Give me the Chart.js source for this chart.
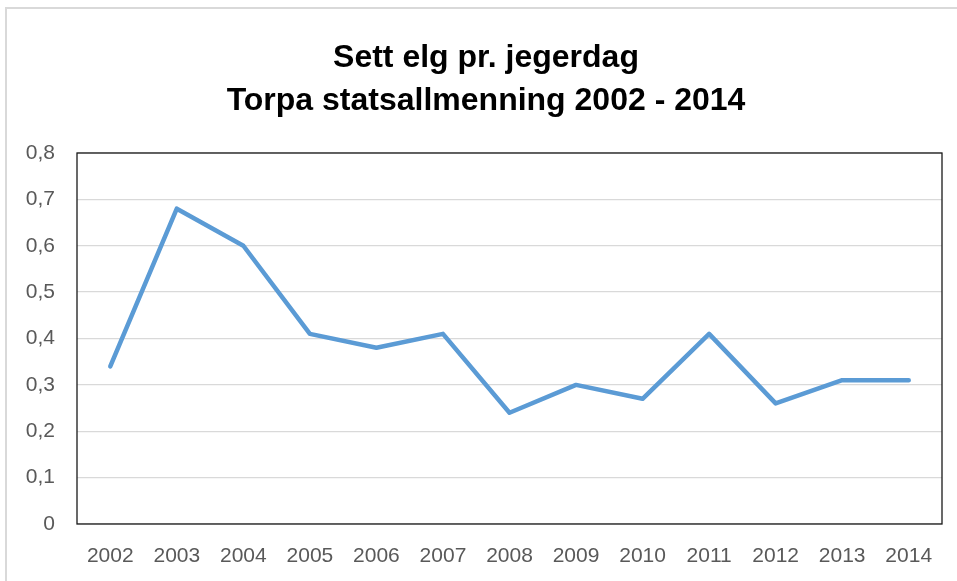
<!DOCTYPE html>
<html>
<head>
<meta charset="utf-8">
<script src="https://cdn.jsdelivr.net/npm/chart.js@4/dist/chart.umd.min.js"></script>
<style>
  html, body { margin: 0; padding: 0; background: #fff; }
  #wrap { width: 957px; height: 581px; position: relative; }
</style>
</head>
<body>
<div id="wrap"><canvas id="chart" width="957" height="581"></canvas></div>
<script>
const years = ['2002', '2003', '2004', '2005', '2006', '2007', '2008', '2009', '2010', '2011', '2012', '2013', '2014'];
const settElg = [0.34, 0.68, 0.60, 0.41, 0.38, 0.41, 0.24, 0.30, 0.27, 0.41, 0.26, 0.31, 0.31];
const titleLines = ['Sett elg pr. jegerdag', 'Torpa statsallmenning 2002 - 2014'];

// ramme rundt hele diagrammet + svart ramme rundt plottområdet
const frames = {
    id: 'frames',
    beforeDraw(chart) {
        const ctx = chart.ctx;
        ctx.save();
        ctx.strokeStyle = '#d9d9d9';
        ctx.lineWidth = 2;
        ctx.strokeRect(6, 8, 1200, 1200);
        ctx.restore();
    },
    afterDraw(chart) {
        const a = chart.chartArea;
        const ctx = chart.ctx;
        ctx.save();
        ctx.strokeStyle = '#1a1a1a';
        ctx.lineWidth = 1.3;
        ctx.strokeRect(a.left, a.top, a.right - a.left, a.bottom - a.top);
        ctx.restore();
    }
};

new Chart(document.getElementById('chart'), {
    type: 'line',
    data: {
        labels: years,
        datasets: [{
            data: settElg,
            borderColor: '#5B9BD5',
            borderWidth: 4.5,
            borderJoinStyle: 'round',
            borderCapStyle: 'round',
            pointRadius: 0,
            tension: 0,
            fill: false
        }]
    },
    options: {
        responsive: false,
        animation: false,
        layout: { padding: { left: 15, right: 0, top: 0, bottom: 0 } },
        plugins: {
            legend: { display: false },
            tooltip: { enabled: false },
            title: {
                display: true,
                text: titleLines,
                color: '#000',
                font: { family: 'Liberation Sans', size: 32, weight: 'bold', lineHeight: 1.344 },
                padding: { top: 37, bottom: 30 }
            }
        },
        scales: {
            x: {
                offset: true,
                grid: { display: false },
                border: { display: false },
                ticks: {
                    color: '#595959',
                    font: { family: 'Liberation Sans', size: 21 },
                    padding: 12,
                    maxRotation: 0
                },
                afterFit(scale) { scale.height = 57; }
            },
            y: {
                min: 0,
                max: 0.8,
                grid: { color: '#d9d9d9', lineWidth: 1.3, drawTicks: false },
                border: { display: false },
                ticks: {
                    stepSize: 0.1,
                    color: '#595959',
                    font: { family: 'Liberation Sans', size: 21 },
                    padding: 22,
                    callback: v => v === 0 ? '0' : v.toFixed(1).replace('.', ',')
                },
                afterFit(scale) { scale.width = 62; }
            },
            // tom akse til høyre, bare for å gi luft til høyre for plottområdet
            yRight: {
                position: 'right',
                min: 0,
                max: 0.8,
                grid: { display: false },
                border: { display: false },
                ticks: { display: false },
                afterFit(scale) { scale.width = 15; }
            }
        }
    },
    plugins: [frames]
});
</script>
</body>
</html>
